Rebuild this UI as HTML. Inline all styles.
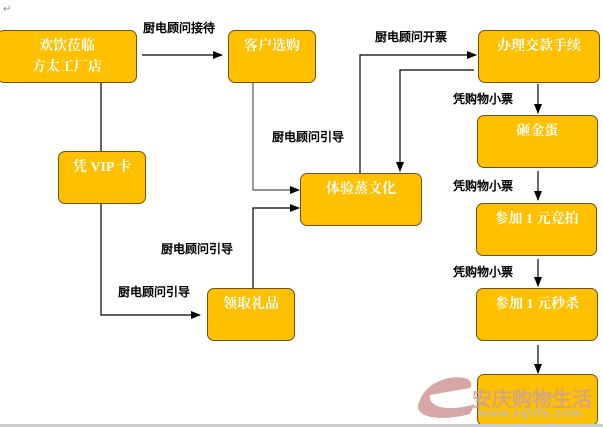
<!DOCTYPE html>
<html><head><meta charset="utf-8"><style>
body{margin:0;width:603px;height:427px;background:#fff;position:relative;overflow:hidden;font-family:"Liberation Serif","Noto Serif CJK SC",serif}
.b{position:absolute;background:#FFC000;border:1.5px solid #6b5218;border-radius:7px;box-sizing:border-box;color:#fff;font-size:14px;font-weight:bold;text-align:center;line-height:21px;padding-top:5px}
.l{position:absolute;font-family:"Liberation Sans","WenQuanYi Zen Hei",sans-serif;font-size:12px;font-weight:bold;color:#000;white-space:nowrap}
svg{position:absolute;left:0;top:0}
</style></head><body>
<svg width="603" height="427">
<defs><marker id="a" markerWidth="10" markerHeight="8" refX="9" refY="4" orient="auto" markerUnits="userSpaceOnUse"><path d="M0,0L10,4L0,8z" fill="#000"/></marker></defs>
<g stroke="#000" stroke-width="1.2" fill="none">
<line x1="142" y1="55" x2="222" y2="55" marker-end="url(#a)"/>
<line x1="101" y1="82" x2="101" y2="151"/>
<polyline points="101,203 101,315 200,315" marker-end="url(#a)"/>
<polyline points="253,83 253,190 299,190" marker-end="url(#a)" stroke="#555"/>
<polyline points="253,288 253,208 299,208" marker-end="url(#a)"/>
<polyline points="360,173 360,55 476,55" marker-end="url(#a)"/>
<polyline points="474,70 400,70 400,171" marker-end="url(#a)"/>
<line x1="538" y1="84" x2="538" y2="113" marker-end="url(#a)"/>
<line x1="538" y1="171" x2="538" y2="200" marker-end="url(#a)"/>
<line x1="538" y1="259" x2="538" y2="286" marker-end="url(#a)"/>
<line x1="538" y1="345" x2="538" y2="373" marker-end="url(#a)"/>
</g>
<text x="3" y="12" font-size="10" fill="#888">↵</text>
<path d="M420,400 C430,372 480,372 470,388 L430,395 C428,408 450,412 475,404 L470,414 C440,422 410,418 420,400 Z" fill="#c98a8a" opacity=".75"/>
</svg>
<div class="b" style="left:-3px;top:30px;width:140px;height:53px">欢饮莅临<br>方太工厂店</div>
<div class="b" style="left:228px;top:30px;width:88px;height:53px">客户选购</div>
<div class="b" style="left:58px;top:151px;width:88px;height:53px">凭 VIP 卡</div>
<div class="b" style="left:300px;top:173px;width:122px;height:53px">体验蒸文化</div>
<div class="b" style="left:207px;top:288px;width:88px;height:53px">领取礼品</div>
<div class="b" style="left:478px;top:30px;width:122px;height:53px">办理交款手续</div>
<div class="b" style="left:477px;top:115px;width:121px;height:53px">砸金蛋</div>
<div class="b" style="left:476px;top:203px;width:121px;height:53px">参加 1 元竞拍</div>
<div class="b" style="left:476px;top:288px;width:122px;height:53px">参加 1 元秒杀</div>
<div class="b" style="left:477px;top:374px;width:121px;height:52px"></div>
<div class="l" style="left:143px;top:19px">厨电顾问接待</div>
<div class="l" style="left:375px;top:28px">厨电顾问开票</div>
<div class="l" style="left:272px;top:128px">厨电顾问引导</div>
<div class="l" style="left:161px;top:240px">厨电顾问引导</div>
<div class="l" style="left:118px;top:283px">厨电顾问引导</div>
<div class="l" style="left:453px;top:90px">凭购物小票</div>
<div class="l" style="left:453px;top:177px">凭购物小票</div>
<div class="l" style="left:453px;top:263px">凭购物小票</div>
<div style="position:absolute;left:472px;top:383px;font-family:'WenQuanYi Zen Hei',sans-serif;font-size:20px;font-weight:bold;color:#c9a0a0;opacity:.8">安庆购物生活</div>
<div style="position:absolute;left:478px;top:406px;font-family:'Liberation Sans',sans-serif;font-size:12px;font-weight:bold;color:#bbb;letter-spacing:1px">www.aqlife.com</div>
<div style="position:absolute;left:0;top:424px;width:603px;height:3px;background:#ccc"></div>
</body></html>
